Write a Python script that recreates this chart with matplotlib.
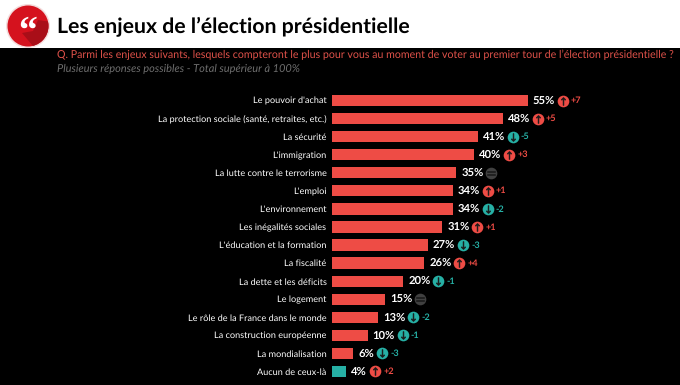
import matplotlib
matplotlib.use('Agg')
import matplotlib.pyplot as plt
from matplotlib.patches import Circle, Polygon, Rectangle
from matplotlib.transforms import ScaledTranslation

categories = [
    "Le pouvoir d'achat", "La protection sociale (santé, retraites, etc.)",
    "La sécurité", "L'immigration", "La lutte contre le terrorisme",
    "L'emploi", "L'environnement", "Les inégalités sociales",
    "L'éducation et la formation", "La fiscalité", "La dette et les déficits",
    "Le logement", "Le rôle de la France dans le monde",
    "La construction européenne", "La mondialisation", "Aucun de ceux-là",
]
values = [55, 48, 41, 40, 35, 34, 34, 31, 27, 26, 20, 15, 13, 10, 6, 4]
deltas = [7, 5, -5, 3, 0, 1, -2, 1, -3, 4, -1, 0, -2, -1, -3, 2]

RED = '#ee4c45'
TEAL = '#26b0a5'
GREY = '#404040'
plt.rcParams['font.family'] = ['Lato', 'DejaVu Sans']
plt.rcParams['text.hinting'] = 'no_hinting'

fig = plt.figure(figsize=(6.8, 3.85), dpi=100, facecolor='white')

# page furniture, in pixels
bg = fig.add_axes([0, 0, 1, 1])
bg.set_xlim(0, 680)
bg.set_ylim(385, 0)
bg.axis('off')
bg.add_patch(Rectangle((0, 48), 680, 337, color='black', lw=0))
bg.add_patch(Circle((28, 26), 22, fc='#f3dcdc', ec='none'))
logo = Circle((28, 26), 20.5, fc='#d5121e', ec='none')
bg.add_patch(logo)
shadow = Polygon([(33, 31), (22, 33), (38, 52), (52, 40), (52, 22), (38, 20)],
                 fc='#a90e18', ec='none')
bg.add_patch(shadow)
shadow.set_clip_path(logo)
bg.text(27.5, 33, '\u201c', color='white', fontsize=27, fontweight='bold',
        ha='center', va='center', family='Liberation Serif')
bg.text(57, 26, "Les enjeux de l’élection présidentielle", color='black',
        fontsize=15.35, fontweight='bold', va='center')
bg.text(57, 54.5, "Q. Parmi les enjeux suivants, lesquels compteront le plus pour vous "
        "au moment de voter au premier tour de l’élection présidentielle ?",
        color='#e0524a', fontsize=7.67, va='center')
bg.text(57, 68.5, "Plusieurs réponses possibles - Total supérieur à 100%",
        color='#6e6e6e', fontsize=7.9, style='italic', va='center')

# bars: 3.555 px per point, rows 18.07 px apart
ax = fig.add_axes([332 / 680, 1 - 380.5 / 385, 348 / 680, 289 / 385])
ax.set_facecolor('none')
ax.set_xlim(0, 348 / 3.555)
ax.set_ylim(len(values) - 0.5, -0.5)
for s in ax.spines.values():
    s.set_visible(False)
ax.xaxis.set_visible(False)

y = list(range(len(values)))
colors = [RED] * (len(values) - 1) + [TEAL]
ax.barh(y, values, height=0.62, color=colors)
ax.set_yticks(y, categories, color='white', fontsize=6.6)
ax.tick_params(axis='y', length=0, pad=4)

PT = 72 / 100  # pixels to points
for yi, v, d in zip(y, values, deltas):
    ax.annotate(f"{v}%", (v, yi), xytext=(5 * PT, 0), textcoords='offset points',
                color='white', fontsize=8.1, fontweight='bold', va='center')
    off = (35 if v >= 10 else 29) * PT
    c = RED if d > 0 else TEAL if d < 0 else GREY
    shift = ax.transData + ScaledTranslation(off / 72, 0, fig.dpi_scale_trans)
    sym = r'$\uparrow$' if d > 0 else r'$\downarrow$' if d < 0 else '$=$'
    ax.plot([v], [yi], 'o', ms=8.4, mfc=c, mec='none', transform=shift)
    ax.plot([v], [yi], marker=sym, ms=5.6, mfc='#1a1a1a', mec='#1a1a1a', mew=0.4,
            transform=shift)
    if d != 0:
        ax.annotate(f"{d:+d}", (v, yi), xytext=(off + 8 * PT, 0), textcoords='offset points',
                    color=c, fontsize=6.6, fontweight='bold', va='center')

fig.savefig('out.png', dpi=100, facecolor='white')
